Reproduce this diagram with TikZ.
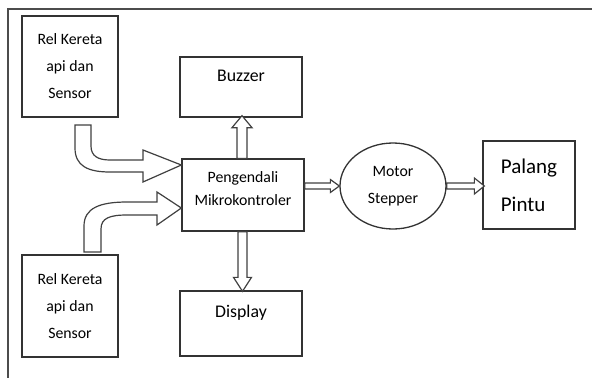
\documentclass[tikz,border=0pt]{standalone}
\usepackage{fontspec}
\setmainfont{Carlito}
\usetikzlibrary{calc,shapes.geometric}

% hollow block arrow: start, tip, shaft half width, head half width, head length
\newcommand\blkarrow[5]{%
  \coordinate (hb) at ($(#2)!#5!(#1)$);
  \draw[blk] ($(#1)!#3!90:(#2)$) -- ($(hb)!#3!90:(#2)$) -- ($(hb)!#4!90:(#2)$) -- (#2)
    -- ($(hb)!#4!-90:(#2)$) -- ($(hb)!#3!-90:(#2)$) -- ($(#1)!#3!-90:(#2)$) -- cycle;}

\begin{document}
\begin{tikzpicture}[x=1pt,y=-1pt,
    box/.style={draw=black!80,line width=1.3pt,fill=white,inner sep=0pt},
    blk/.style={draw=black!75,line width=1.2pt,fill=white,line join=miter},
    frame/.style={draw=black!70,line width=2pt},
    small/.style={font=\fontsize{15.8}{27}\selectfont,align=center},
    mid/.style={font=\fontsize{17.8}{24}\selectfont}]
  \useasboundingbox (0,0) rectangle (592,378);
  \draw[frame] (592,9) -- (8,9) -- (8,378);

  % blocks
  \node[box,small,minimum width=96,minimum height=101] (sensA) at (70,66.5) {Rel Kereta\\api dan\\Sensor};
  \node[box,small,minimum width=96,minimum height=102] (sensB) at (70,306) {Rel Kereta\\api dan\\Sensor};
  \node[box,minimum width=122,minimum height=60] (buzzer) at (241,87) {};
  \node[mid] (buzzerlbl) at ($(buzzer.north)+(0,20)$) {Buzzer};
  \node[box,minimum width=122,minimum height=72] (mcu) at (243,195) {};
  \node[font=\fontsize{15.8}{23}\selectfont,align=center] (mculbl) at ($(mcu.center)+(0,-6)$) {Pengendali\\Mikrokontroler};
  \node[box,minimum width=122,minimum height=65] (display) at (241,323.5) {};
  \node[mid] (displaylbl) at ($(display.north)+(0,22)$) {Display};
  \node[box,ellipse,small,minimum width=106,minimum height=86] (motor) at (393,186) {Motor\\Stepper};
  \node[box,font=\fontsize{21}{38}\selectfont,align=left,minimum width=92,minimum height=88] (palang) at (529,185) {Palang\\Pintu};

  % arrows
  \draw[blk] (75,125) -- (75,148) .. controls (75,166) and (88,172) .. (110,172) -- (143,172)
    -- (143,182) -- (mcu.west |- 0,165) -- (143,150) -- (143,160) -- (110,160)
    .. controls (98,160) and (91,156) .. (91,146) -- (91,125) -- cycle;
  \draw[blk] (84,252) -- (84,226) .. controls (84,208) and (100,202) .. (127,202) -- (157,202)
    -- (157,192) -- (mcu.west |- 0,208) -- (157,225) -- (157,215) -- (127,215)
    .. controls (110,215) and (101,218) .. (101,229) -- (101,252) -- cycle;

  \coordinate (upA) at ([xshift=-1]mcu.north);
  \coordinate (upB) at ([xshift=1,yshift=2]buzzer.south);
  \blkarrow{upA}{upB}{5pt}{10pt}{12pt}
  \coordinate (dnA) at ([xshift=-0.5]mcu.south);
  \coordinate (dnB) at ([xshift=1.5,yshift=-1]display.north);
  \blkarrow{dnA}{dnB}{4.5pt}{9pt}{14pt}
  \coordinate (rtA) at (mcu.east |- motor.west);
  \blkarrow{rtA}{motor.west}{3pt}{6.5pt}{9pt}
  \coordinate (rtB) at ([xshift=2]palang.west |- motor.east);
  \blkarrow{motor.east}{rtB}{3pt}{8pt}{10pt}
\end{tikzpicture}
\end{document}
